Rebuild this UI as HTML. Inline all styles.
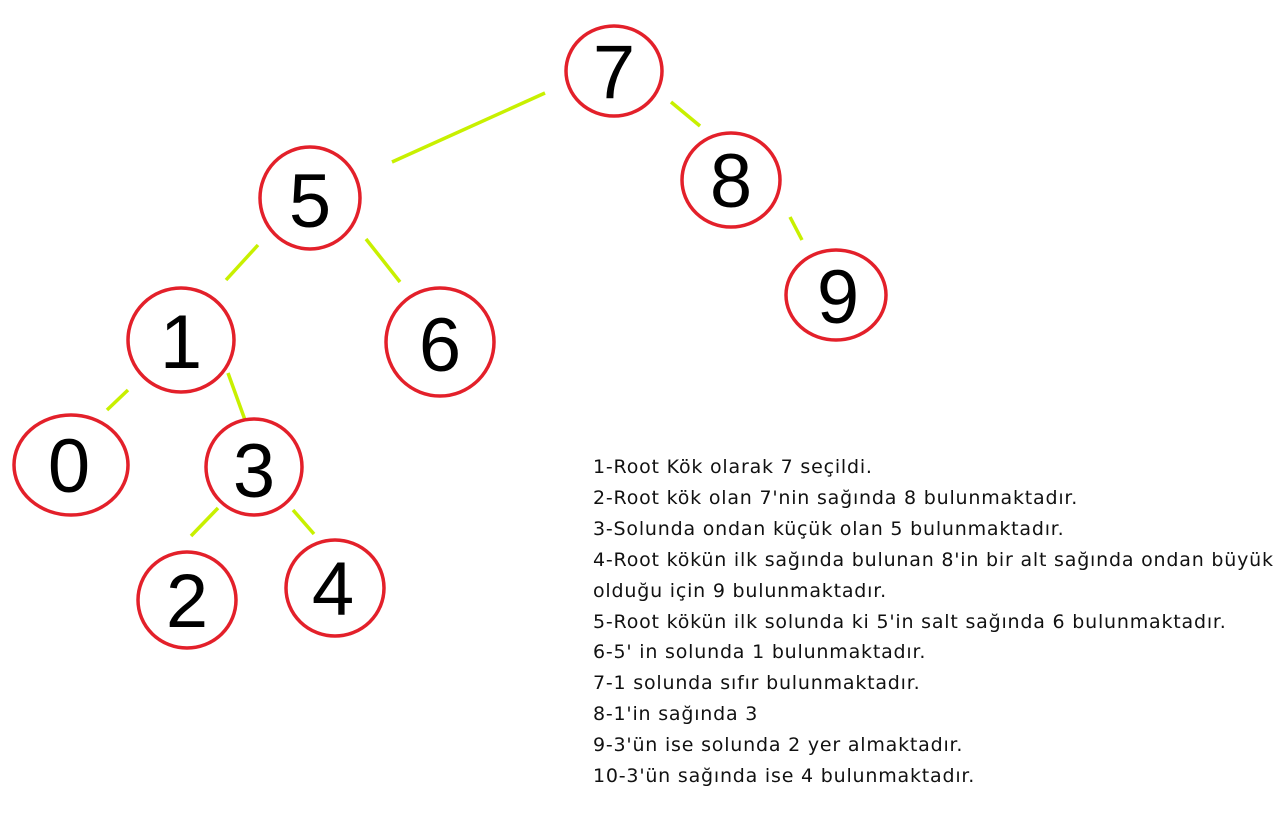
<!DOCTYPE html>
<html><head><meta charset="utf-8"><style>
body{margin:0;background:#fff;width:1288px;height:814px;overflow:hidden;position:relative;font-family:"Liberation Sans","DejaVu Sans",sans-serif}
.t{position:absolute;left:593px;top:452px;font-family:"DejaVu Sans",sans-serif;font-size:19px;letter-spacing:0.8px;line-height:30.9px;color:#111;white-space:nowrap}
</style></head><body>
<svg width="1288" height="814" style="position:absolute;left:0;top:0">
<g stroke="#c8f000" stroke-width="3.5">
<line x1="545" y1="93" x2="392" y2="162"/>
<line x1="671" y1="102" x2="700" y2="126"/>
<line x1="790" y1="217" x2="802" y2="240"/>
<line x1="258" y1="245" x2="226" y2="280"/>
<line x1="366" y1="239" x2="400" y2="282"/>
<line x1="128" y1="390" x2="107" y2="410"/>
<line x1="228" y1="373" x2="245" y2="420"/>
<line x1="218" y1="508" x2="191" y2="536"/>
<line x1="293" y1="510" x2="314" y2="534"/>
</g>
<g fill="#fff" stroke="#e3202a" stroke-width="3.5">
<ellipse cx="614" cy="71" rx="48" ry="45"/>
<ellipse cx="310" cy="198" rx="50" ry="51"/>
<ellipse cx="731" cy="180" rx="49" ry="47"/>
<ellipse cx="836" cy="295" rx="50" ry="45"/>
<ellipse cx="181" cy="340" rx="53" ry="52"/>
<ellipse cx="440" cy="342" rx="54" ry="54"/>
<ellipse cx="71" cy="465" rx="57" ry="50"/>
<ellipse cx="254" cy="467" rx="48" ry="48"/>
<ellipse cx="187" cy="600" rx="49" ry="48"/>
<ellipse cx="335" cy="588" rx="49" ry="48"/>
</g>
<g font-family="Liberation Sans, DejaVu Sans, sans-serif" font-size="76" text-anchor="middle" fill="#000">
<text x="614" y="98">7</text>
<text x="310" y="227">5</text>
<text x="731" y="207">8</text>
<text x="838" y="323">9</text>
<text x="181" y="368">1</text>
<text x="440" y="371">6</text>
<text x="69" y="492">0</text>
<text x="254" y="497">3</text>
<text x="187" y="627">2</text>
<text x="333" y="615">4</text>
</g>
</svg>
<div class="t">1-Root Kök olarak 7 seçildi.<br>2-Root kök olan 7'nin sağında 8 bulunmaktadır.<br>3-Solunda ondan küçük olan 5 bulunmaktadır.<br>4-Root kökün ilk sağında bulunan 8'in bir alt sağında ondan büyük<br>olduğu için 9 bulunmaktadır.<br>5-Root kökün ilk solunda ki 5'in salt sağında 6 bulunmaktadır.<br>6-5' in solunda 1 bulunmaktadır.<br>7-1 solunda sıfır bulunmaktadır.<br>8-1'in sağında 3<br>9-3'ün ise solunda 2 yer almaktadır.<br>10-3'ün sağında ise 4 bulunmaktadır.</div>
</body></html>
